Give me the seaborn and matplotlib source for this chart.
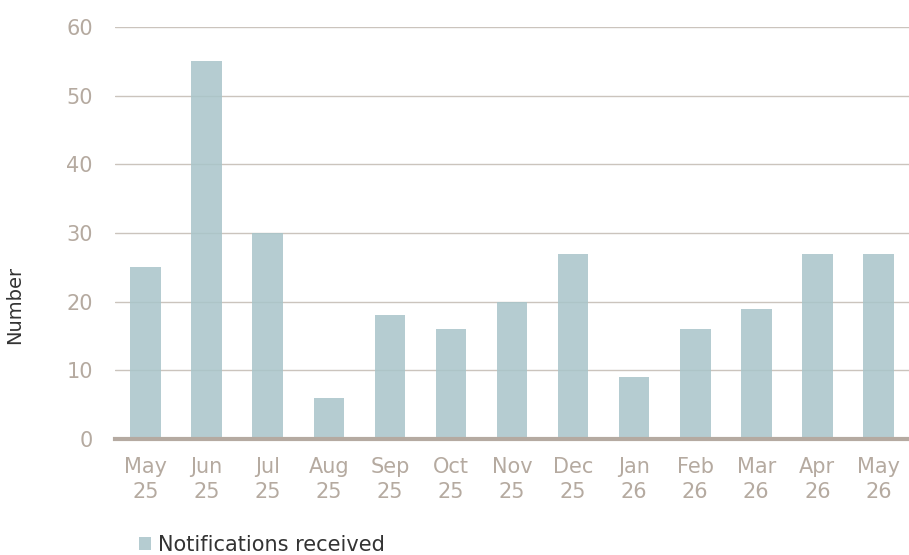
import matplotlib
matplotlib.use("Agg")
import matplotlib.pyplot as plt
import seaborn as sns
import pandas as pd

months = ["May\n25", "Jun\n25", "Jul\n25", "Aug\n25", "Sep\n25", "Oct\n25", "Nov\n25",
          "Dec\n25", "Jan\n26", "Feb\n26", "Mar\n26", "Apr\n26", "May\n26"]
notifications = [25, 55, 30, 6, 18, 16, 20, 27, 9, 16, 19, 27, 27]
y_ticks = [0, 10, 20, 30, 40, 50, 60]
series_name = "Notifications received"

sns.set_theme(style="white")
plt.rcParams['font.family'] = ['DejaVu Sans']

df = pd.DataFrame({"month": months, "value": notifications})

fig = plt.figure(figsize=(9.09, 5.55), dpi=100)
ax = fig.add_axes([115/909, 1-439/555, 1-115/909, (439-27)/555])

text_col = "#b5aaa0"
grid_col = "#cbc4bd"

sns.barplot(data=df, x="month", y="value", color="#a8c4c9", alpha=0.85,
            width=0.5, saturation=1, linewidth=0, ax=ax, label=series_name, zorder=3)

ax.set_ylim(0, 60)
ax.set_xlim(-0.5, len(months) - 0.5)
ax.set_yticks(y_ticks)
ax.yaxis.grid(True, color=grid_col, linewidth=1, zorder=0)
ax.set_axisbelow(True)
for s in ["top", "right", "left"]:
    ax.spines[s].set_visible(False)
ax.spines["bottom"].set_color("#b5aaa1")
ax.spines["bottom"].set_linewidth(3)
ax.spines["bottom"].set_zorder(4)
ax.tick_params(axis="y", length=0, pad=16, labelsize=15, labelcolor=text_col)
ax.tick_params(axis="x", length=0, pad=13, labelsize=15, labelcolor=text_col)
for t in ax.get_xticklabels():
    t.set_linespacing(1.3)
ax.set_xlabel("")
ax.set_ylabel("")

fig.text(15/909, 1-305/555, "Number", rotation=90, ha="center", va="center",
         fontsize=14, color="#333333")

leg = ax.get_legend()
if leg is not None:
    leg.remove()
handles, labels = ax.get_legend_handles_labels()
fig.legend(handles, labels, loc="center left", bbox_to_anchor=(131/909, 1-545/555),
           frameon=False, fontsize=15, handlelength=0.55, handleheight=0.55,
           handletextpad=0.35, labelcolor="#333333", borderaxespad=0)

fig.savefig("out.png", dpi=100)
